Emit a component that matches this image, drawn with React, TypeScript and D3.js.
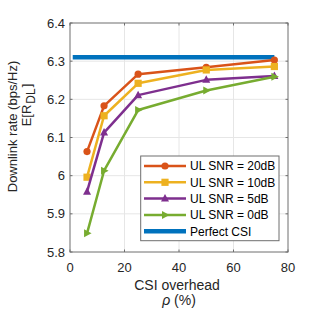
import React from 'react';
import * as d3 from 'd3';

// CSI overhead values (%)
const rho = [6.25, 12.5, 25, 50, 75];

// Downlink rate per UL SNR
const snr20 = [6.063, 6.183, 6.266, 6.284, 6.303];
const snr10 = [5.996, 6.157, 6.242, 6.277, 6.286];
const snr5 = [5.958, 6.113, 6.211, 6.251, 6.261];
const snr0 = [5.849, 6.013, 6.172, 6.223, 6.259];

const perfectRho = [1, 75];
const perfectRate = [6.31, 6.31];

const xTicks = [0, 20, 40, 60, 80];
const yTicks = [5.8, 5.9, 6.0, 6.1, 6.2, 6.3, 6.4];

const seriesNames = ['UL SNR = 20dB', 'UL SNR = 10dB', 'UL SNR = 5dB', 'UL SNR = 0dB', 'Perfect CSI'];

const FONT = 'Liberation Sans, Arial, Helvetica, sans-serif';

type Marker = 'circle' | 'square' | 'up' | 'right' | 'none';

const series: { values: number[]; color: string; marker: Marker }[] = [
    { values: snr20, color: '#D95319', marker: 'circle' },
    { values: snr10, color: '#EDB120', marker: 'square' },
    { values: snr5, color: '#7E2F8E', marker: 'up' },
    { values: snr0, color: '#77AC30', marker: 'right' },
];

const MarkerShape: React.FC<{ type: Marker; x: number; y: number; color: string }> = ({ type, x, y, color }) => {
    if (type === 'circle') return <circle cx={x} cy={y} r={3.6} fill={color} />;
    if (type === 'square') return <rect x={x - 3.6} y={y - 3.6} width={7.2} height={7.2} fill={color} />;
    if (type === 'up') {
        const pts = [[x, y - 4.5], [x - 4, y + 3], [x + 4, y + 3]];
        return <polygon points={pts.map(p => p.join(',')).join(' ')} fill={color} />;
    }
    if (type === 'right') {
        const pts = [[x + 4.5, y], [x - 3, y - 4], [x - 3, y + 4]];
        return <polygon points={pts.map(p => p.join(',')).join(' ')} fill={color} />;
    }
    return null;
};

export default function App() {
    const width = 320;
    const height = 313;
    const margin = { top: 23, right: 32, bottom: 61, left: 70 };

    const x = d3.scaleLinear().domain([0, 80]).range([margin.left, width - margin.right]);
    const y = d3.scaleLinear().domain([5.8, 6.4]).range([height - margin.bottom, margin.top]);

    const line = d3.line<[number, number]>()
        .x(d => x(d[0]))
        .y(d => y(d[1]));

    const x0 = x(0), x1 = x(80), y0 = y(5.8), y1 = y(6.4);
    const tickLen = 2.5;

    // legend layout
    const lg = { left: 140.7, top: 156, right: 279, bottom: 240.7, row0: 166, step: 16.3 };

    return (
        <div style={{ position: 'fixed', left: 0, top: 0 }}>
            <svg width={width} height={height} viewBox={`0 0 ${width} ${height}`} style={{ display: 'block', background: '#fff' }}>
                {/* grid */}
                <g stroke="#e6e6e6" strokeWidth={1}>
                    {xTicks.slice(1, -1).map(t => (
                        <line key={`gx${t}`} x1={x(t)} x2={x(t)} y1={y0} y2={y1} />
                    ))}
                    {yTicks.slice(1, -1).map(t => (
                        <line key={`gy${t}`} x1={x0} x2={x1} y1={y(t)} y2={y(t)} />
                    ))}
                </g>

                {/* box and ticks */}
                <g stroke="#6e6e6e" strokeWidth={1} fill="none">
                    <rect x={x0} y={y1} width={x1 - x0} height={y0 - y1} />
                    {xTicks.map(t => (
                        <g key={`tx${t}`}>
                            <line x1={x(t)} x2={x(t)} y1={y0} y2={y0 - tickLen} />
                            <line x1={x(t)} x2={x(t)} y1={y1} y2={y1 + tickLen} />
                        </g>
                    ))}
                    {yTicks.map(t => (
                        <g key={`ty${t}`}>
                            <line x1={x0} x2={x0 + tickLen} y1={y(t)} y2={y(t)} />
                            <line x1={x1} x2={x1 - tickLen} y1={y(t)} y2={y(t)} />
                        </g>
                    ))}
                </g>

                {/* tick labels */}
                <g fontFamily={FONT} fontSize={13} fill="#262626">
                    {xTicks.map(t => (
                        <text key={`lx${t}`} x={x(t)} y={y0 + 20} textAnchor="middle">{t}</text>
                    ))}
                    {yTicks.map(t => (
                        <text key={`ly${t}`} x={x0 - 5} y={y(t) + 4.5} textAnchor="end">{d3.format('~g')(t)}</text>
                    ))}
                </g>

                {/* axis titles */}
                <g fontFamily={FONT} fill="#262626">
                    <text x={177} y={290} fontSize={14} textAnchor="middle">CSI overhead</text>
                    <text x={179} y={305} fontSize={14} textAnchor="middle">
                        <tspan fontStyle="italic">ρ</tspan> (%)
                    </text>
                    <text transform="translate(17,126.5) rotate(-90)" fontSize={13} textAnchor="middle">Downlink rate (bps/Hz)</text>
                    <text transform="translate(31,105) rotate(-90)" fontSize={13} textAnchor="middle">
                        E[R<tspan fontSize={12} dx={1} dy={3.5}>DL</tspan><tspan dx={1} dy={-3.5}>]</tspan>
                    </text>
                </g>

                {/* perfect CSI */}
                <path
                    d={line(perfectRho.map((r, i) => [r, perfectRate[i]]) as [number, number][]) || ''}
                    fill="none"
                    stroke="#0072BD"
                    strokeWidth={4.5}
                />

                {/* series */}
                {series.map((s, si) => (
                    <g key={`s${si}`}>
                        <path
                            d={line(rho.map((r, i) => [r, s.values[i]]) as [number, number][]) || ''}
                            fill="none"
                            stroke={s.color}
                            strokeWidth={2.5}
                            strokeLinejoin="round"
                        />
                        {rho.map((r, i) => (
                            <MarkerShape key={i} type={s.marker} x={x(r)} y={y(s.values[i])} color={s.color} />
                        ))}
                    </g>
                ))}

                {/* legend */}
                <rect x={lg.left} y={lg.top} width={lg.right - lg.left} height={lg.bottom - lg.top} fill="#fff" stroke="#6e6e6e" strokeWidth={1} />
                {seriesNames.map((name, i) => {
                    const ly = lg.row0 + i * lg.step;
                    const s = series[i];
                    const color = s ? s.color : '#0072BD';
                    return (
                        <g key={`lg${i}`}>
                            <line x1={144} x2={186} y1={ly} y2={ly} stroke={color} strokeWidth={s ? 2.5 : 4.5} />
                            {s && <MarkerShape type={s.marker} x={165} y={ly} color={color} />}
                            <text x={190} y={ly + 4.3} fontFamily={FONT} fontSize={12} fill="#000">{name}</text>
                        </g>
                    );
                })}
            </svg>
        </div>
    );
}
